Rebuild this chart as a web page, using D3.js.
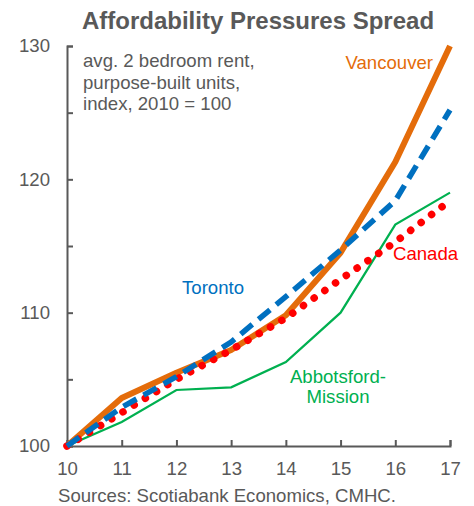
<!DOCTYPE html>
<html>
<head>
<meta charset="utf-8">
<title>Affordability Pressures Spread</title>
<script src="https://d3js.org/d3.v7.min.js"></script>
<style>
  body { margin: 0; background: white; }
  svg { font-family: "Liberation Sans", Arial, sans-serif; }
</style>
</head>
<body>
<div id="chart"></div>
<script>
var years = [10, 11, 12, 13, 14, 15, 16, 17];
var vancouver = [100, 103.6, 105.5, 107.2, 109.8, 114.5, 121.3, 130];
var toronto = [100, 102.9, 105.2, 107.8, 111.2, 114.7, 118.4, 125.2];
var canada = [100, 102.5, 105.0, 107.2, 109.6, 112.5, 115.3, 118.4];
var abbotsford = [100, 101.8, 104.2, 104.4, 106.3, 110.0, 116.6, 119.0];
var yTicks = [100, 110, 120, 130];
var yMinor = [100, 105, 110, 115, 120, 125, 130];

var width = 474, height = 506;
var grey = "#595959";
var fs = 18.6;

var svg = d3.select("#chart").append("svg")
  .attr("width", width)
  .attr("height", height);

var x = d3.scaleLinear().domain([10, 17]).range([67, 450]);
var y = d3.scaleLinear().domain([100, 130]).range([446, 46]);

// title
svg.append("text")
  .attr("x", 258).attr("y", 29)
  .attr("text-anchor", "middle")
  .attr("font-size", 24).attr("font-weight", "bold")
  .attr("fill", grey)
  .text("Affordability Pressures Spread");

// axes
var xAxis = d3.axisBottom(x).tickValues(years).tickSize(-6).tickPadding(16).tickFormat(d3.format("d"));
var gx = svg.append("g").attr("transform", "translate(0,446)").call(xAxis);
var yAxis = d3.axisLeft(y).tickValues(yMinor).tickSize(-6).tickPadding(17)
  .tickFormat(function(d) { return yTicks.indexOf(d) >= 0 ? d : ""; });
var gy = svg.append("g").attr("transform", "translate(67,0)").call(yAxis);

[gx, gy].forEach(function(g) {
  g.select(".domain").attr("stroke", grey).attr("stroke-width", 2);
  g.selectAll(".tick line").attr("stroke", grey).attr("stroke-width", 2);
  g.selectAll(".tick text").attr("fill", grey).attr("font-size", fs)
    .attr("font-family", "Liberation Sans, Arial, sans-serif");
});

var line = d3.line()
  .x(function(d, i) { return x(years[i]); })
  .y(function(d) { return y(d); });

svg.append("path").datum(abbotsford)
  .attr("d", line).attr("fill", "none")
  .attr("stroke", "#00B050").attr("stroke-width", 2.2);

svg.append("path").datum(vancouver)
  .attr("d", line).attr("fill", "none")
  .attr("stroke", "#E46C0A").attr("stroke-width", 6)
  .attr("stroke-linejoin", "round");

svg.append("path").datum(canada)
  .attr("d", line).attr("fill", "none")
  .attr("stroke", "#FF0000").attr("stroke-width", 7.5)
  .attr("stroke-linecap", "round")
  .attr("stroke-dasharray", "0.1 13");

svg.append("path").datum(toronto)
  .attr("d", line).attr("fill", "none")
  .attr("stroke", "#0070C0").attr("stroke-width", 5.5)
  .attr("stroke-dasharray", "15 8");

// subtitle
var sub = ["avg. 2 bedroom rent,", "purpose-built units,", "index, 2010 = 100"];
svg.selectAll(".sub").data(sub).enter().append("text")
  .attr("x", 83).attr("y", function(d, i) { return 67 + i * 21.7; })
  .attr("font-size", fs).attr("fill", grey)
  .text(function(d) { return d; });

// series labels
function label(txt, lx, ly, color, anchor) {
  svg.append("text").attr("x", lx).attr("y", ly)
    .attr("text-anchor", anchor || "start")
    .attr("font-size", fs).attr("fill", color).text(txt);
}
label("Vancouver", 433, 69, "#E46C0A", "end");
label("Toronto", 182, 294, "#0070C0");
label("Canada", 393, 260, "#FF0000");
label("Abbotsford-", 338, 383, "#00B050", "middle");
label("Mission", 338, 403, "#00B050", "middle");

// source
svg.append("text").attr("x", 58).attr("y", 502)
  .attr("font-size", fs).attr("fill", grey)
  .text("Sources: Scotiabank Economics, CMHC.");
</script>
</body>
</html>
